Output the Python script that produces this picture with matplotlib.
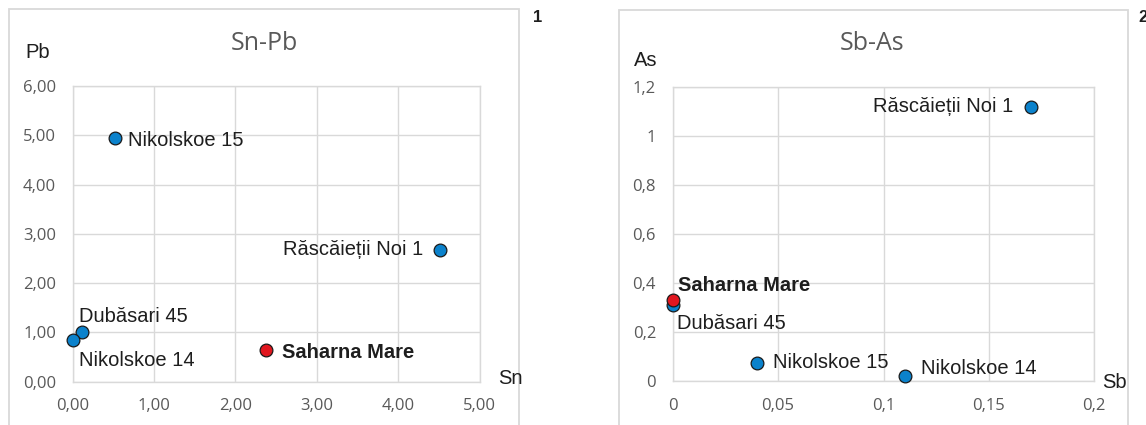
import numpy as np
import matplotlib
matplotlib.use("agg")
import matplotlib.pyplot as plt
from matplotlib.patches import Rectangle
from matplotlib.ticker import FuncFormatter, MultipleLocator

W, H = 1146, 425

sites = ["Saharna Mare", "Dubăsari 45", "Nikolskoe 14", "Nikolskoe 15", "Răscăieții Noi 1"]
sn = [2.37, 0.11, 0.00, 0.52, 4.51]
pb = [0.63, 1.00, 0.85, 4.95, 2.68]
sb = [0.00, 0.00, 0.11, 0.04, 0.17]
arsenic = [0.33, 0.31, 0.02, 0.075, 1.12]
highlight = "Saharna Mare"

BLUE = "#0b82cc"
RED = "#e1171f"
GRID = "#d9d9d9"
TICK = "#595959"
INK = "#1e1e1e"
LABEL_FONT = ["Liberation Sans", "DejaVu Sans"]
TICK_FONT = ["Open Sans", "DejaVu Sans"]


def px(x, y):
    # pixel position (from top-left) -> figure fraction
    return x / W, 1 - y / H


def axes_rect(x0, y0, x1, y1):
    return [x0 / W, 1 - y1 / H, (x1 - x0) / W, (y1 - y0) / H]


def comma_fmt(fmt):
    return FuncFormatter(lambda v, _: format(v, fmt).replace(".", ","))


def scatter_panel(fig, rect, xs, ys, offsets, xlim, ylim, xstep, ystep, fmt):
    ax = fig.add_axes(rect)
    ax.set_xlim(*xlim)
    ax.set_ylim(*ylim)
    ax.xaxis.set_major_locator(MultipleLocator(xstep))
    ax.yaxis.set_major_locator(MultipleLocator(ystep))
    ax.xaxis.set_major_formatter(comma_fmt(fmt))
    ax.yaxis.set_major_formatter(comma_fmt(fmt))
    ax.grid(True, color=GRID, linewidth=1.0)
    ax.set_axisbelow(True)
    for spine in ax.spines.values():
        spine.set_color(GRID)
        spine.set_linewidth(1.0)
    ax.tick_params(length=0, pad=12, labelsize=12, labelcolor=TICK)
    for lbl in ax.get_xticklabels() + ax.get_yticklabels():
        lbl.set_family(TICK_FONT)

    # blue points first so the highlighted one sits on top
    order = sorted(range(len(sites)), key=lambda i: sites[i] == highlight)
    for i in order:
        name = sites[i]
        color = RED if name == highlight else BLUE
        ax.scatter(xs[i], ys[i], s=84, color=color, edgecolor="#1a1a1a",
                   linewidth=0.9, zorder=3, clip_on=False)
        dx, dy, ha = offsets[name]
        ax.annotate(name, (xs[i], ys[i]), xytext=(dx, dy), textcoords="offset pixels",
                    ha=ha, va="center", fontsize=14.5, color=INK, family=LABEL_FONT,
                    fontweight="bold" if name == highlight else "normal", zorder=4)
    return ax


def main():
    fig = plt.figure(figsize=(W / 100, H / 100), dpi=100)
    fig.patch.set_facecolor("white")

    # chart frames, open at the bottom edge
    for x0, x1, y0 in [(9, 519, 9), (619, 1128, 10)]:
        fx0, fy0 = px(x0, y0)
        fx1, _ = px(x1, y0)
        fig.patches.append(Rectangle((fx0, -0.1), fx1 - fx0, fy0 + 0.1,
                                     transform=fig.transFigure, fill=False,
                                     edgecolor=GRID, linewidth=1.3))

    left = {
        "Nikolskoe 15": (13, -3, "left"),
        "Răscăieții Noi 1": (-16, 0, "right"),
        "Dubăsari 45": (-3, 16, "left"),
        "Nikolskoe 14": (6, -21, "left"),
        "Saharna Mare": (16, -2, "left"),
    }
    scatter_panel(fig, axes_rect(72.7, 86, 479.5, 381.5), sn, pb, left,
                  (0, 5), (0, 6), 1, 1, ".2f")

    right = {
        "Saharna Mare": (5, 15, "left"),
        "Dubăsari 45": (4, -18, "left"),
        "Nikolskoe 15": (16, 0, "left"),
        "Nikolskoe 14": (16, 8, "left"),
        "Răscăieții Noi 1": (-18, 0, "right"),
    }
    scatter_panel(fig, axes_rect(672.7, 87, 1094.3, 381), sb, arsenic, right,
                  (0, 0.2), (0, 1.2), 0.05, 0.2, "g")

    # titles, axis names and panel numbers
    for x, y, s in [(264, 43, "Sn-Pb"), (872, 43, "Sb-As")]:
        fig.text(*px(x, y), s, ha="center", va="center", fontsize=18,
                 color=TICK, family=TICK_FONT)
    for x, y, s in [(25, 52, "Pb"), (498, 379, "Sn"), (634, 60, "As"), (1102, 382, "Sb")]:
        fig.text(*px(x, y), s, ha="left", va="center", fontsize=14.5,
                 color=INK, family=LABEL_FONT)
    for x, y, s in [(533, 17, "1"), (1138, 17, "2")]:
        fig.text(*px(x, y), s, ha="left", va="center", fontsize=12,
                 color=INK, family=LABEL_FONT, fontweight="bold")

    fig.savefig("out.png", dpi=100)
    plt.close(fig)


if __name__ == "__main__":
    main()
